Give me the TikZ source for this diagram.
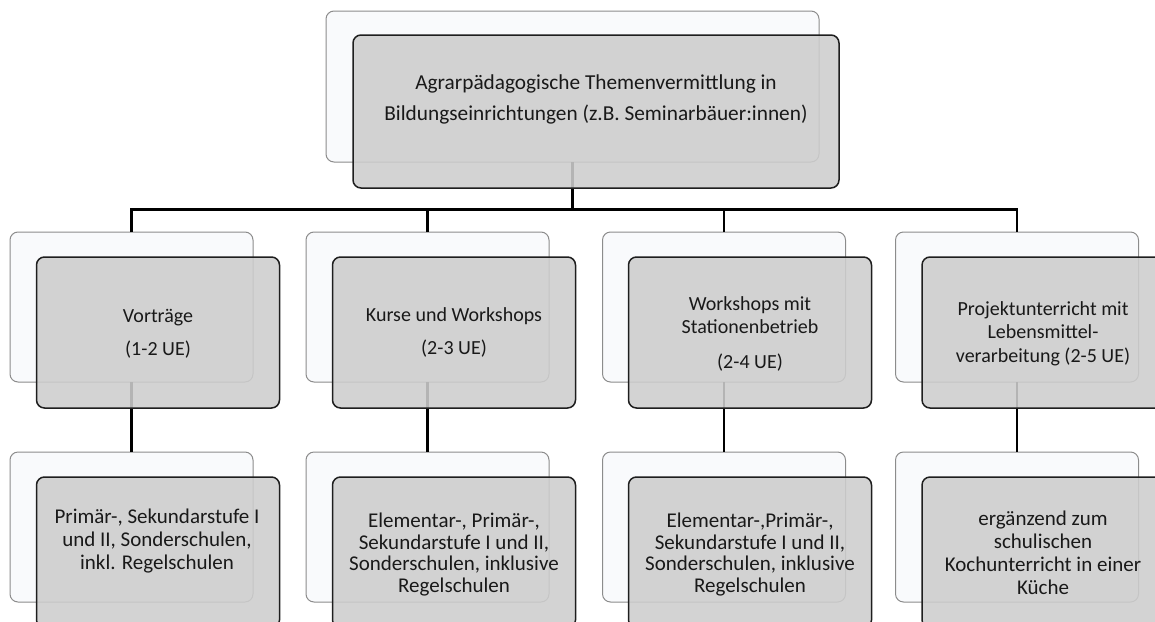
\documentclass[tikz,border=0pt]{standalone}
\usepackage{fontspec}
\setmainfont{Carlito}
\definecolor{backline}{RGB}{140,140,140}
\definecolor{backfill}{RGB}{249,250,252}
\definecolor{frontline}{RGB}{30,30,30}
\definecolor{frontfill}{RGB}{205,205,205}
\definecolor{textc}{RGB}{25,25,25}
\begin{document}
\begin{tikzpicture}[x=1pt,y=-1pt,
  backbox/.style={draw=backline, fill=backfill, rounded corners=8pt, line width=1pt,
    minimum width=243pt, minimum height=150pt, inner sep=0pt, outer sep=0pt},
  frontbox/.style={draw=frontline, fill=frontfill, fill opacity=0.88, draw opacity=1,
    rounded corners=8pt, line width=1.5pt,
    minimum width=243pt, minimum height=151pt, inner sep=0pt, outer sep=0pt},
  conn/.style={draw=black, line width=2.4pt},
  lbl/.style={text=textc, align=center, inner sep=0pt, font=\fontsize{20}{23.5}\selectfont},
  sublbl/.style={lbl, font=\fontsize{21}{23}\selectfont},
  toplbl/.style={lbl, font=\fontsize{21.3}{31}\selectfont}]
\useasboundingbox (0,0) rectangle (1155,621);
\clip (0,0) rectangle (1155,621);

% back boxes
\node[backbox, minimum width=493pt, minimum height=151pt] (t0b) at (572.5,86.5) {};
\node[backbox] (c1b) at (131.5,307) {};
\node[backbox] (c2b) at (427.5,307) {};
\node[backbox] (c3b) at (724,307) {};
\node[backbox] (c4b) at (1017,307) {};
\node[backbox] (d1b) at (131.5,527) {};
\node[backbox] (d2b) at (427.5,527) {};
\node[backbox] (d3b) at (724,527) {};
\node[backbox] (d4b) at (1017,527) {};

% connectors
\coordinate (bar) at (572.5,209.5);
\draw[conn] (t0b.south) -- (t0b.south |- bar);
\draw[conn] (c1b.north) -- (c1b.north |- bar) -- (c4b.north |- bar) -- (c4b.north);
\draw[conn] (c2b.north) -- (c2b.north |- bar);
\draw[conn] (c3b.north) -- (c3b.north |- bar);
\draw[conn] (c1b.south) -- (d1b.north);
\draw[conn] (c2b.south) -- (d2b.north);
\draw[conn] (c3b.south) -- (d3b.north);
\draw[conn] (c4b.south) -- (d4b.north);

% front boxes
\node[frontbox, minimum width=486pt, minimum height=153pt] (t0) at (596,111.5) {};
\node[frontbox] (c1) at (158,332.5) {};
\node[frontbox] (c2) at (454,332.5) {};
\node[frontbox] (c3) at (750,332.5) {};
\node[frontbox] (c4) at (1043.5,332.5) {};
\node[frontbox] (d1) at (158,552.5) {};
\node[frontbox] (d2) at (454,552.5) {};
\node[frontbox] (d3) at (750,552.5) {};
\node[frontbox] (d4) at (1043.5,552.5) {};

% labels
\node[toplbl] (t0t) at (596,99) {Agrarpädagogische Themenvermittlung in\\Bildungseinrichtungen (z.B. Seminarbäuer:innen)};
\node[lbl] (c1t) at (158,333.5) {Vorträge\\[9.5pt](1-2 UE)};
\node[lbl] (c2t) at (454,332.5) {Kurse und Workshops\\[9.5pt](2-3 UE)};
\node[lbl] (c3t) at (750,334) {Workshops mit\\Stationenbetrieb\\[11.5pt](2-4 UE)};
\node[lbl] (c4t) at (1043,333.5) {Projektunterricht mit\\Lebensmittel-\\verarbeitung (2-5 UE)};
\node[sublbl] (d1t) at (157,541.5) {Primär-, Sekundarstufe I\\und II, Sonderschulen,\\inkl. Regelschulen};
\node[sublbl, font=\fontsize{21}{21.9}\selectfont] (d2t) at (454,554.5) {Elementar-, Primär-,\\Sekundarstufe I und II,\\Sonderschulen, inklusive\\Regelschulen};
\node[sublbl, font=\fontsize{21}{21.9}\selectfont] (d3t) at (750,554.5) {Elementar-,Primär-,\\Sekundarstufe I und II,\\Sonderschulen, inklusive\\Regelschulen};
\node[sublbl] (d4t) at (1043,552.5) {ergänzend zum\\schulischen\\Kochunterricht in einer\\Küche};
\end{tikzpicture}
\end{document}
